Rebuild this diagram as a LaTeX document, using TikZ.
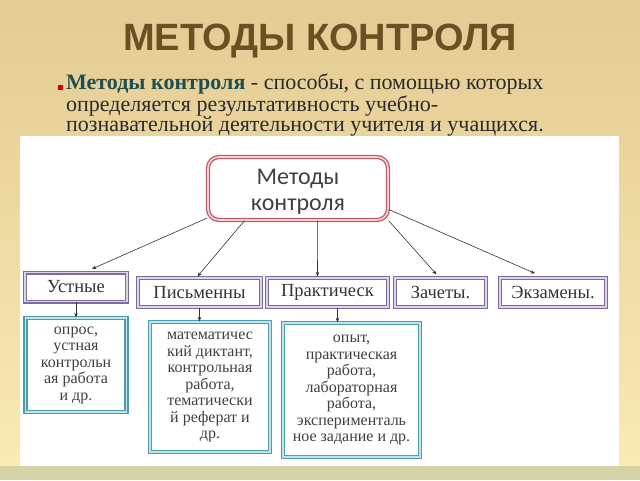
\documentclass[tikz,border=0pt]{standalone}
\usepackage{fontspec}
\setmainfont{Liberation Serif}
\newfontfamily\headfont{Liberation Sans}
\newfontfamily\boxsans{Carlito}
\usetikzlibrary{arrows.meta,calc}
\definecolor{bgtop}{HTML}{E3CB93}
\definecolor{bgbot}{HTML}{FAEAB4}
\definecolor{strip}{HTML}{D6D2A8}
\definecolor{titlec}{HTML}{6B5023}
\definecolor{termc}{HTML}{1E4F50}
\definecolor{bodyc}{HTML}{2A2A2A}
\definecolor{redbox}{HTML}{C05A68}
\definecolor{redin}{HTML}{F2D2D6}
\definecolor{purp}{HTML}{7E6B9C}
\definecolor{purpin}{HTML}{DCD4EA}
\definecolor{teal}{HTML}{4A9CB0}
\definecolor{tealin}{HTML}{C4E2EA}
\definecolor{arr}{HTML}{333333}
\tikzset{
  mainbox/.style={draw=redbox,line width=1.3pt,double=redin,double distance=1.6pt,rounded corners=11pt,fill=white,minimum width=180pt,minimum height=63pt,inner sep=0pt},
  maintext/.style={inner sep=0pt,align=center,font=\boxsans\fontsize{24}{26}\selectfont,text=black!75},
  catbox/.style={draw=purp,line width=1.2pt,double=purpin,double distance=1.6pt,fill=white,minimum height=29pt,inner sep=0pt,font=\fontsize{18.5}{20}\selectfont,text=black!80},
  detbox/.style={draw=teal,line width=1.3pt,double=tealin,double distance=1.8pt,fill=white,inner sep=0pt,align=center,font=\fontsize{16}{16.5}\selectfont,text=black!75},
  conn/.style={draw=arr,line width=0.6pt,-{Stealth[length=4.5pt,width=3.5pt]}}
}
\begin{document}
\begin{tikzpicture}[x=1pt,y=-1pt]
\useasboundingbox (0,0) rectangle (640,480);
\shade[top color=bgtop,bottom color=bgbot] (0,0) rectangle (640,466);
\fill[strip] (0,466) rectangle (640,480);
\fill[white] (20,136) rectangle (619,466);
% title
\node[font=\headfont\bfseries\fontsize{38}{40}\selectfont,text=titlec] (title) at (320,41) {МЕТОДЫ КОНТРОЛЯ};
% bullet
\fill[red!85!black] (57.5,84.5) rectangle (62.5,89.5);
\node[anchor=north west,inner sep=0pt,align=left,text=bodyc,font=\fontsize{22}{20}\selectfont] (def) at (66,74)
 {\textcolor{termc}{\bfseries Методы контроля} - способы, с помощью которых\\
  определяется результативность учебно-\\
  познавательной деятельности учителя и учащихся.};
% main box
\node[mainbox] (c) at (298,188.5) {};
\node[maintext] (ct) at ($(c.center)+(0,3)$) {Методы\\контроля};
% categories
\node[catbox,minimum width=102pt] (u) at (76,287) {Устные};
\node[catbox,minimum width=123pt] (p) at (199.5,292.5) {Письменны};
\node[catbox,minimum width=121pt] (pr) at (327.5,292.5) {Практическ};
\node[catbox,minimum width=91pt] (z) at (440.5,292.5) {Зачеты.};
\node[catbox,minimum width=106pt] (e) at (553,292.5) {Экзамены.};
% details
\node[detbox,minimum width=101pt,minimum height=94pt] (b1) at (76,365) {опрос,\\устная\\контрольн\\ая работа\\и др.};
\node[detbox,minimum width=120pt,minimum height=130pt] (b2) at (210,387) {математичес\\кий диктант,\\контрольная\\работа,\\тематически\\й реферат и\\др.};
\node[detbox,minimum width=137pt,minimum height=134pt] (b3) at (351.5,390) {опыт,\\практическая\\работа,\\лабораторная\\работа,\\эксперименталь\\ное задание и др.};
% connectors
\coordinate (prs) at ($(pr.south)+(10,0)$);
\draw[conn] (c.198) -- ($(u.north)+(16,-3)$);
\draw[conn] (c.211) -- ($(p.north)+(-2,-1)$);
\draw[conn] (c.301) -- ($(pr.north)+(-10,-1)$);
\draw[conn] (c.south east) -- ($(z.north)+(-4,-3)$);
\draw[conn] (c.347) -- ($(e.north)+(-18,-4)$);
\draw[conn] (u.south) -- (b1.north);
\draw[conn] (p.south) -- (p.south |- b2.north);
\draw[conn] (prs) -- (prs |- b3.north);
\end{tikzpicture}
\end{document}
